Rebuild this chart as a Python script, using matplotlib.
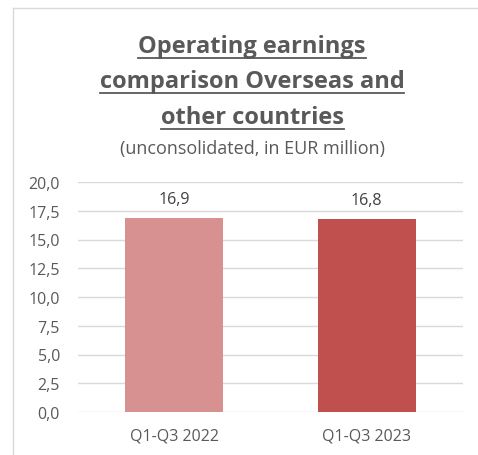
import matplotlib
matplotlib.use("Agg")
import matplotlib.pyplot as plt
from matplotlib.lines import Line2D

categories = ["Q1-Q3 2022", "Q1-Q3 2023"]
values = [16.9, 16.8]
value_labels = ["16,9", "16,8"]
yticks = [0, 2.5, 5, 7.5, 10, 12.5, 15, 17.5, 20]
ytick_labels = ["0,0", "2,5", "5,0", "7,5", "10,0", "12,5", "15,0", "17,5", "20,0"]
colors = ["#D69190", "#C0504D"]

plt.rcParams['font.family'] = ['Open Sans', 'DejaVu Sans']
W, H = 478, 456
fig = plt.figure(figsize=(W/100, H/100), dpi=100)
fig.patch.set_facecolor("white")

# outer frame lines (left & top)
fig.add_artist(Line2D([13/W, 13/W], [0, 1-9/H], transform=fig.transFigure, color="#D9D9D9", lw=1))
fig.add_artist(Line2D([13/W, 1], [1-9/H, 1-9/H], transform=fig.transFigure, color="#D9D9D9", lw=1))

ax = fig.add_axes([78/W, 1-413/H, (463-78)/W, (413-183)/H])
x = range(len(categories))
ax.bar(x, values, width=0.51, color=colors, zorder=3)
ax.set_xlim(-0.5, 1.5)
ax.set_ylim(0, 20)
ax.set_yticks(yticks)
ax.set_yticklabels(ytick_labels)
ax.set_xticks(list(x))
ax.set_xticklabels(categories)
ax.grid(axis="y", color="#D9D9D9", lw=1, zorder=0)
for s in ax.spines.values():
    s.set_visible(False)
ax.tick_params(length=0, labelsize=11.5, colors="#595959")
ax.tick_params(axis="y", pad=13)
ax.tick_params(axis="x", pad=11)
for xi, v, lab in zip(x, values, value_labels):
    ax.text(xi, v + 0.9, lab, ha="center", va="bottom", fontsize=11.5, color="#404040")

title_color = "#595959"
for yy, t in [(53, "Operating earnings"), (88, "comparison Overseas and"), (124, "other countries")]:
    fig.text(252/W, 1-yy/H, t, ha="center", va="baseline", fontsize=17, fontweight="bold",
             color=title_color)
fig.text(252/W, 1-149/H, "(unconsolidated, in EUR million)", ha="center", va="center",
         fontsize=13, color=title_color)

fig.canvas.draw()
renderer = fig.canvas.get_renderer()
for tx, yy in zip([t for t in fig.texts if t.get_fontweight() == "bold"], [53, 88, 124]):
    bb = tx.get_window_extent(renderer)
    yl = 1 - (yy + 6) / H
    fig.add_artist(Line2D([bb.x0/W, bb.x1/W], [yl, yl], transform=fig.transFigure,
                          color=title_color, lw=1.3))

fig.savefig("out.png", dpi=100)
